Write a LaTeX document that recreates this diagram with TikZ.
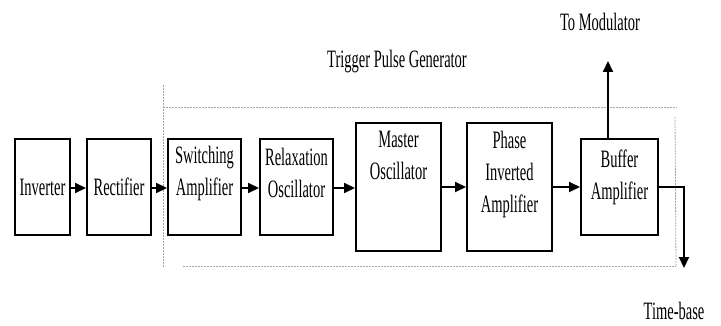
\documentclass[tikz,border=0pt]{standalone}
\usepackage{fontspec}
\setmainfont[FakeStretch=0.58]{Liberation Serif}
\usetikzlibrary{arrows.meta}
\begin{document}
\begin{tikzpicture}[x=1pt,y=-1pt,
  blk/.style={draw, line width=2pt, rectangle, inner sep=0pt},
  txt/.style={font=\fontsize{25}{32}\selectfont, align=center, inner sep=0pt},
  flow/.style={line width=2pt, -{Triangle[length=11pt,width=10pt]}},
  frame/.style={draw=gray!70, line width=0.8pt, dash pattern=on 2pt off 1pt}]
\useasboundingbox (0,0) rectangle (721,326);
% boxes
\node[blk, minimum width=55pt, minimum height=96pt] (inv) at (42.5,187) {};
\node[blk, minimum width=64pt, minimum height=96pt] (rec) at (119,187) {};
\node[blk, minimum width=73pt, minimum height=96pt] (sw) at (204.5,187) {};
\node[blk, minimum width=73pt, minimum height=96pt] (rel) at (296.5,187) {};
\node[blk, minimum width=85pt, minimum height=128pt] (mo) at (398.5,187) {};
\node[blk, minimum width=85pt, minimum height=128pt] (pi) at (509.5,187) {};
\node[blk, minimum width=77pt, minimum height=96pt] (buf) at (619.5,187) {};
% texts
\node[txt] (tinv) at (inv.center) {Inverter};
\node[txt] (trec) at (rec.center) {Rectifier};
\node[txt, anchor=north] (tsw) at ([yshift=-8pt]sw.north) {Switching\\Amplifier};
\node[txt, anchor=north] (trel) at ([yshift=-10pt]rel.north) {Relaxation\\Oscillator};
\node[txt, anchor=north] (tmo) at ([yshift=-9pt]mo.north) {Master\\Oscillator};
\node[txt, anchor=north] (tpi) at ([yshift=-9pt]pi.north) {Phase\\Inverted\\Amplifier};
\node[txt, anchor=north] (tbuf) at ([yshift=-12pt]buf.north) {Buffer\\Amplifier};
\node[txt] (ttpg) at (397,62) {Trigger Pulse Generator};
\node[txt] (ttm) at (600,22) {To Modulator};
\node[txt] (ttb) at (674,311) {Time-base};
% dashed frame
\coordinate (f1) at (163,85);
\coordinate (f2) at (163,267);
\coordinate (f3) at (163,107);
\coordinate (f4) at (677,107);
\coordinate (f5) at (183,266);
\coordinate (f6) at (676,266);
\coordinate (f7) at (675,117);
\draw[frame] (f1) -- (f2);
\draw[frame] (f3) -- (f4);
\draw[frame] (f5) -- (f6);
\draw[frame] (f7) -- (f6);
% connectors
\draw[flow] (inv.east |- 0,188) -- (rec.west |- 0,188);
\draw[flow] (rec.east |- 0,188) -- (sw.west |- 0,188);
\draw[flow] (sw.east |- 0,188) -- (rel.west |- 0,188);
\draw[flow] (rel.east |- 0,188) -- (mo.west |- 0,188);
\draw[flow] (mo.east |- 0,187) -- (pi.west |- 0,187);
\draw[flow] (pi.east |- 0,187) -- (buf.west |- 0,187);
\coordinate (up) at (608,61);
\coordinate (dn) at (684,268);
\draw[flow] (buf.north -| up) -- (up);
\draw[flow] (buf.east |- 0,187) -| (dn);
\end{tikzpicture}
\end{document}
